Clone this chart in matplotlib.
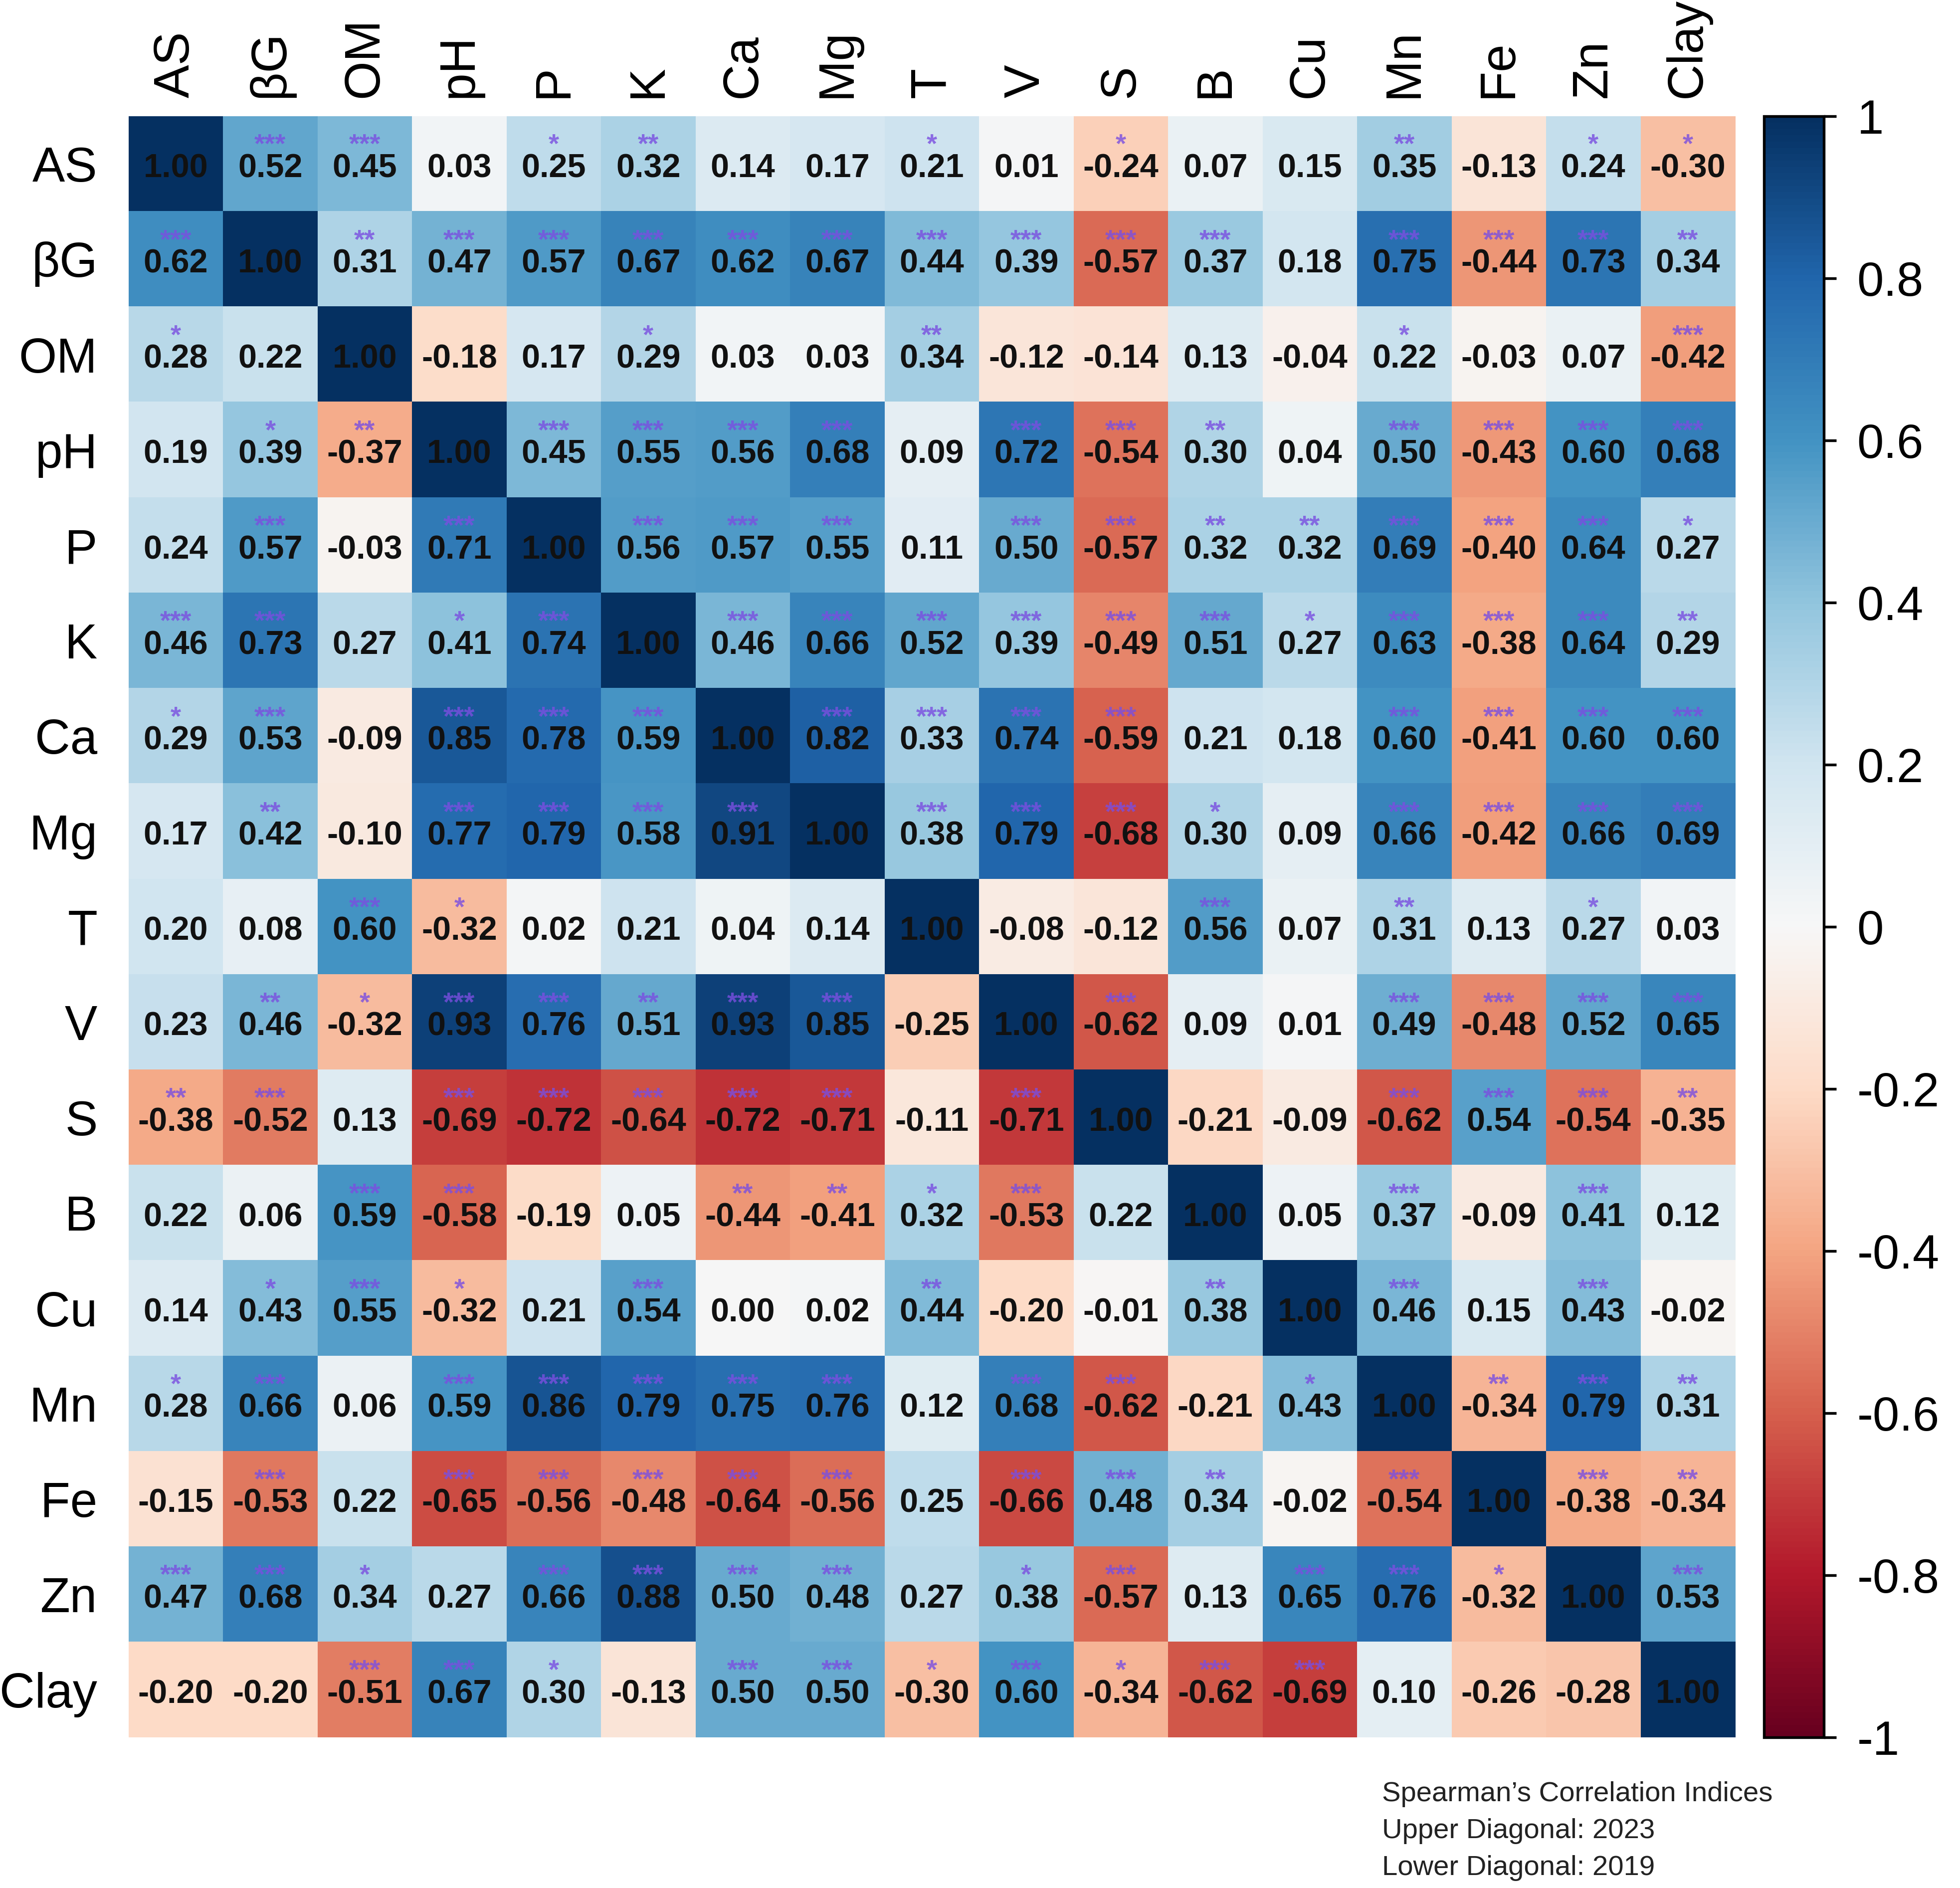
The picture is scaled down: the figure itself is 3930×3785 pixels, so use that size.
import matplotlib.pyplot as plt
import numpy as np

# etiquetas de las variables
variables = ['AS', 'βG', 'OM', 'pH', 'P', 'K', 'Ca', 'Mg', 'T', 'V', 'S',
             'B', 'Cu', 'Mn', 'Fe', 'Zn', 'Clay']

# correlaciones de Spearman (superior: 2023, inferior: 2019)
rho = [
    [1.00, 0.52, 0.45, 0.03, 0.25, 0.32, 0.14, 0.17, 0.21, 0.01, -0.24, 0.07, 0.15, 0.35, -0.13, 0.24, -0.30],
    [0.62, 1.00, 0.31, 0.47, 0.57, 0.67, 0.62, 0.67, 0.44, 0.39, -0.57, 0.37, 0.18, 0.75, -0.44, 0.73, 0.34],
    [0.28, 0.22, 1.00, -0.18, 0.17, 0.29, 0.03, 0.03, 0.34, -0.12, -0.14, 0.13, -0.04, 0.22, -0.03, 0.07, -0.42],
    [0.19, 0.39, -0.37, 1.00, 0.45, 0.55, 0.56, 0.68, 0.09, 0.72, -0.54, 0.30, 0.04, 0.50, -0.43, 0.60, 0.68],
    [0.24, 0.57, -0.03, 0.71, 1.00, 0.56, 0.57, 0.55, 0.11, 0.50, -0.57, 0.32, 0.32, 0.69, -0.40, 0.64, 0.27],
    [0.46, 0.73, 0.27, 0.41, 0.74, 1.00, 0.46, 0.66, 0.52, 0.39, -0.49, 0.51, 0.27, 0.63, -0.38, 0.64, 0.29],
    [0.29, 0.53, -0.09, 0.85, 0.78, 0.59, 1.00, 0.82, 0.33, 0.74, -0.59, 0.21, 0.18, 0.60, -0.41, 0.60, 0.60],
    [0.17, 0.42, -0.10, 0.77, 0.79, 0.58, 0.91, 1.00, 0.38, 0.79, -0.68, 0.30, 0.09, 0.66, -0.42, 0.66, 0.69],
    [0.20, 0.08, 0.60, -0.32, 0.02, 0.21, 0.04, 0.14, 1.00, -0.08, -0.12, 0.56, 0.07, 0.31, 0.13, 0.27, 0.03],
    [0.23, 0.46, -0.32, 0.93, 0.76, 0.51, 0.93, 0.85, -0.25, 1.00, -0.62, 0.09, 0.01, 0.49, -0.48, 0.52, 0.65],
    [-0.38, -0.52, 0.13, -0.69, -0.72, -0.64, -0.72, -0.71, -0.11, -0.71, 1.00, -0.21, -0.09, -0.62, 0.54, -0.54, -0.35],
    [0.22, 0.06, 0.59, -0.58, -0.19, 0.05, -0.44, -0.41, 0.32, -0.53, 0.22, 1.00, 0.05, 0.37, -0.09, 0.41, 0.12],
    [0.14, 0.43, 0.55, -0.32, 0.21, 0.54, 0.00, 0.02, 0.44, -0.20, -0.01, 0.38, 1.00, 0.46, 0.15, 0.43, -0.02],
    [0.28, 0.66, 0.06, 0.59, 0.86, 0.79, 0.75, 0.76, 0.12, 0.68, -0.62, -0.21, 0.43, 1.00, -0.34, 0.79, 0.31],
    [-0.15, -0.53, 0.22, -0.65, -0.56, -0.48, -0.64, -0.56, 0.25, -0.66, 0.48, 0.34, -0.02, -0.54, 1.00, -0.38, -0.34],
    [0.47, 0.68, 0.34, 0.27, 0.66, 0.88, 0.50, 0.48, 0.27, 0.38, -0.57, 0.13, 0.65, 0.76, -0.32, 1.00, 0.53],
    [-0.20, -0.20, -0.51, 0.67, 0.30, -0.13, 0.50, 0.50, -0.30, 0.60, -0.34, -0.62, -0.69, 0.10, -0.26, -0.28, 1.00],
]

# significancia (numero de asteriscos por celda)
sig = [
    [0, 3, 3, 0, 1, 2, 0, 0, 1, 0, 1, 0, 0, 2, 0, 1, 1],
    [3, 0, 2, 3, 3, 3, 3, 3, 3, 3, 3, 3, 0, 3, 3, 3, 2],
    [1, 0, 0, 0, 0, 1, 0, 0, 2, 0, 0, 0, 0, 1, 0, 0, 3],
    [0, 1, 2, 0, 3, 3, 3, 3, 0, 3, 3, 2, 0, 3, 3, 3, 3],
    [0, 3, 0, 3, 0, 3, 3, 3, 0, 3, 3, 2, 2, 3, 3, 3, 1],
    [3, 3, 0, 1, 3, 0, 3, 3, 3, 3, 3, 3, 1, 3, 3, 3, 2],
    [1, 3, 0, 3, 3, 3, 0, 3, 3, 3, 3, 0, 0, 3, 3, 3, 3],
    [0, 2, 0, 3, 3, 3, 3, 0, 3, 3, 3, 1, 0, 3, 3, 3, 3],
    [0, 0, 3, 1, 0, 0, 0, 0, 0, 0, 0, 3, 0, 2, 0, 1, 0],
    [0, 2, 1, 3, 3, 2, 3, 3, 0, 0, 3, 0, 0, 3, 3, 3, 3],
    [2, 3, 0, 3, 3, 3, 3, 3, 0, 3, 0, 0, 0, 3, 3, 3, 2],
    [0, 0, 3, 3, 0, 0, 2, 2, 1, 3, 0, 0, 0, 3, 0, 3, 0],
    [0, 1, 3, 1, 0, 3, 0, 0, 2, 0, 0, 2, 0, 3, 0, 3, 0],
    [1, 3, 0, 3, 3, 3, 3, 3, 0, 3, 3, 0, 1, 0, 2, 3, 2],
    [0, 3, 0, 3, 3, 3, 3, 3, 0, 3, 3, 2, 0, 3, 0, 3, 2],
    [3, 3, 1, 0, 3, 3, 3, 3, 0, 1, 3, 0, 3, 3, 1, 0, 3],
    [0, 0, 3, 3, 1, 0, 3, 3, 1, 3, 1, 3, 3, 0, 0, 0, 0],
]

cbar_ticks = [1, 0.8, 0.6, 0.4, 0.2, 0, -0.2, -0.4, -0.6, -0.8, -1]
cbar_labels = ['1', '0.8', '0.6', '0.4', '0.2', '0', '-0.2', '-0.4', '-0.6', '-0.8', '-1']

nota = ['Spearman\u2019s Correlation Indices',
        'Upper Diagonal: 2023',
        'Lower Diagonal: 2019']

plt.rcParams['font.family'] = ['Liberation Sans', 'DejaVu Sans']

fig = plt.figure(figsize=(13.1, 12.6167), dpi=300)
ax = fig.add_axes([0.0656, 0.0797, 0.8196, 0.8587])

M = np.array(rho)
n = len(variables)
im = ax.imshow(M, cmap='RdBu', vmin=-1, vmax=1, aspect='auto',
               interpolation='nearest')

ax.set_xticks(range(n))
ax.set_yticks(range(n))
ax.set_xticklabels(variables, rotation=90, fontsize=24)
ax.set_yticklabels(variables, fontsize=23.5)
ax.xaxis.tick_top()
ax.tick_params(axis='x', length=0, pad=9)
ax.tick_params(axis='y', length=0, pad=15)
for s in ax.spines.values():
    s.set_visible(False)

# valores y asteriscos de significancia
for i in range(n):
    for j in range(n):
        ax.text(j, i + 0.05, f'{M[i, j]:.2f}', ha='center', va='center',
                fontsize=16, fontweight='bold', color='#111111')
        if sig[i][j] > 0:
            ax.text(j, i - 0.19, '*' * sig[i][j], ha='center', va='center',
                    fontsize=13, fontweight='bold', color='#7a4fe0',
                    alpha=0.8)

# barra de color
cax = fig.add_axes([0.900, 0.0797, 0.0305, 0.8587])
cb = fig.colorbar(im, cax=cax)
cb.set_ticks(cbar_ticks)
cb.set_ticklabels(cbar_labels)
cb.ax.tick_params(labelsize=23, length=6, width=1.3, pad=10)
cb.outline.set_linewidth(1.3)

# nota
for k, linea in enumerate(nota):
    fig.text(0.705, 0.0497 - k * 0.0195, linea, fontsize=13.5, va='center',
             ha='left', color='#222222')

fig.savefig('out.png', dpi=300)
